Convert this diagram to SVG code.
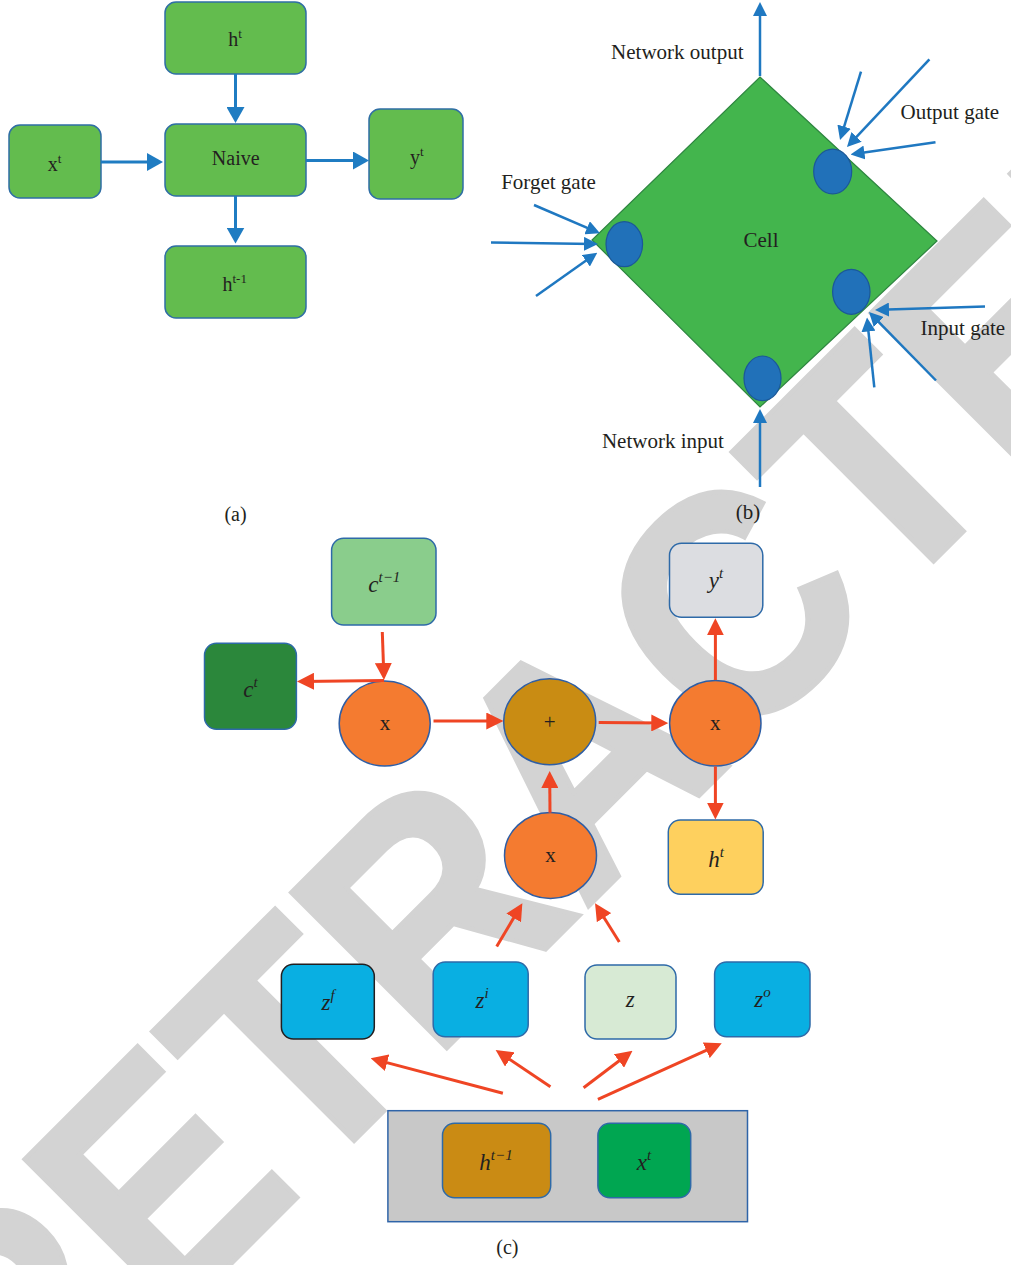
<svg xmlns="http://www.w3.org/2000/svg" width="1011" height="1265" viewBox="0 0 1011 1265">
<style>
.lbl{font-family:"Liberation Serif","Times New Roman",serif;fill:#231f20}
.a{font-size:20px}
.b{font-size:21px}
.c{font-size:23px;font-style:italic}
.sup{font-size:13px}
.csup{font-size:15px}
.abox{fill:#63bc4e;stroke:#2f6ea5;stroke-width:1.5}
.gate{fill:#2171b9;stroke:#1b5799;stroke-width:1.2}
.blue{stroke:#1f7cc2;stroke-width:3;fill:none}
.blueb{stroke:#1f78c1;stroke-width:2.5;fill:none}
.red{stroke:#ef4524;stroke-width:3;fill:none}
.cbox{stroke:#2e6aa8;stroke-width:1.5}
.circ{stroke:#2e5ea5;stroke-width:1.5}
</style>
<defs>
<marker id="ha" markerUnits="userSpaceOnUse" markerWidth="16" markerHeight="18" refX="11" refY="9" orient="auto"><path d="M0,0 L16,9 L0,18 z" fill="#1f7cc2"/></marker>
<marker id="hb" markerUnits="userSpaceOnUse" markerWidth="14" markerHeight="14" refX="9" refY="7" orient="auto"><path d="M0,0 L14,7 L0,14 z" fill="#1f78c1"/></marker>
<marker id="hc" markerUnits="userSpaceOnUse" markerWidth="17" markerHeight="17" refX="12" refY="8.5" orient="auto"><path d="M0,0 L17,8.5 L0,17 z" fill="#ef4524"/></marker>
</defs>
<rect width="1011" height="1265" fill="#ffffff"/>
<text transform="translate(15.4,1479.1) rotate(-45) scale(0.925,1)" font-family="Liberation Sans, Arial, sans-serif" font-weight="bold" font-size="319" fill="#d3d3d3" stroke="#d3d3d3" stroke-width="5">RETRACTED</text>

<!-- (a) -->
<g id="a-ht"><rect class="abox" x="165" y="2" width="141" height="72" rx="11"/><text class="lbl a" x="235" y="46" text-anchor="middle">h<tspan class="sup" dy="-8">t</tspan></text></g>
<g id="a-naive"><rect class="abox" x="165" y="124" width="141" height="72" rx="11"/><text class="lbl a" x="235.7" y="165" text-anchor="middle">Naive</text></g>
<g id="a-xt"><rect class="abox" x="9" y="125" width="92" height="73" rx="11"/><text class="lbl a" x="54.5" y="170.5" text-anchor="middle">x<tspan class="sup" dy="-8">t</tspan></text></g>
<g id="a-yt"><rect class="abox" x="369" y="109" width="94" height="90" rx="11"/><text class="lbl a" x="416.7" y="163.5" text-anchor="middle">y<tspan class="sup" dy="-8">t</tspan></text></g>
<g id="a-ht1"><rect class="abox" x="165" y="246" width="141" height="72" rx="11"/><text class="lbl a" x="234.7" y="291" text-anchor="middle">h<tspan class="sup" dy="-8">t-1</tspan></text></g>
<text class="lbl a" x="235.5" y="521" text-anchor="middle">(a)</text>

<!-- (b) -->
<g id="b-cell"><path d="M760,77 L937,241 L760,407 L592,240 z" fill="#43b54d" stroke="#2e8540" stroke-width="1.2"/><text class="lbl b" x="761" y="247" text-anchor="middle">Cell</text></g>
<g id="b-gate-forget"><ellipse class="gate" cx="624.3" cy="244.2" rx="18.3" ry="22.5"/></g>
<g id="b-gate-output"><ellipse class="gate" cx="832.7" cy="171.5" rx="19" ry="22.3"/></g>
<g id="b-gate-input"><ellipse class="gate" cx="851.3" cy="291.8" rx="18.7" ry="22.5"/></g>
<g id="b-gate-net"><ellipse class="gate" cx="762.5" cy="378.3" rx="18.5" ry="22.3"/></g>
<text class="lbl b" x="677.3" y="58.5" text-anchor="middle">Network output</text>
<text class="lbl b" x="949.9" y="118.5" text-anchor="middle">Output gate</text>
<text class="lbl b" x="548.5" y="188.5" text-anchor="middle">Forget gate</text>
<text class="lbl b" x="962.9" y="335" text-anchor="middle">Input gate</text>
<text class="lbl b" x="662.9" y="448" text-anchor="middle">Network input</text>
<text class="lbl b" x="748" y="519" text-anchor="middle">(b)</text>

<!-- (c) -->
<g id="c-ct1"><rect class="cbox" x="331.6" y="538.3" width="104.4" height="86.7" rx="12" fill="#8acd8c"/><text class="lbl c" x="384.3" y="591.5" text-anchor="middle">c<tspan class="csup" dy="-10">t−1</tspan></text></g>
<g id="c-ct"><rect class="cbox" x="204.5" y="643.3" width="91.9" height="86" rx="12" fill="#2b873b"/><text class="lbl c" x="250.5" y="696.5" text-anchor="middle">c<tspan class="csup" dy="-10">t</tspan></text></g>
<g id="c-yt"><rect class="cbox" x="669.5" y="543.3" width="93.3" height="74" rx="12" fill="#dcdde1"/><text class="lbl c" x="716" y="588" text-anchor="middle">y<tspan class="csup" dy="-10">t</tspan></text></g>
<g id="c-ht"><rect class="cbox" x="668.3" y="820" width="94.9" height="74.3" rx="12" fill="#fed05e"/><text class="lbl c" x="716" y="867" text-anchor="middle">h<tspan class="csup" dy="-10">t</tspan></text></g>
<g id="c-mul1"><ellipse class="circ" cx="384.7" cy="723.5" rx="45.5" ry="42.5" fill="#f47b30"/><text class="lbl" font-size="21" x="385" y="729.5" text-anchor="middle">x</text></g>
<g id="c-plus"><ellipse class="circ" cx="549.7" cy="721.7" rx="46" ry="43" fill="#c98c13"/><text class="lbl" font-size="21" x="549.7" y="729" text-anchor="middle">+</text></g>
<g id="c-mul2"><ellipse class="circ" cx="715.3" cy="723.3" rx="45.7" ry="42.7" fill="#f47b30"/><text class="lbl" font-size="21" x="715.3" y="729.5" text-anchor="middle">x</text></g>
<g id="c-mul3"><ellipse class="circ" cx="550.5" cy="855.5" rx="46" ry="43" fill="#f47b30"/><text class="lbl" font-size="21" x="550.5" y="862" text-anchor="middle">x</text></g>
<g id="c-zf"><rect x="281.4" y="964.3" width="92.9" height="74.7" rx="12" fill="#09afe2" stroke="#231f20" stroke-width="1.5"/><text class="lbl c" x="328" y="1010" text-anchor="middle">z<tspan class="csup" dy="-10">f</tspan></text></g>
<g id="c-zi"><rect class="cbox" x="433.2" y="962" width="95" height="74.7" rx="12" fill="#09afe2"/><text class="lbl c" x="482" y="1008" text-anchor="middle">z<tspan class="csup" dy="-10">i</tspan></text></g>
<g id="c-z"><rect class="cbox" x="585" y="965" width="91" height="74" rx="12" fill="#d7ead4"/><text class="lbl c" x="630.3" y="1007" text-anchor="middle">z</text></g>
<g id="c-zo"><rect class="cbox" x="714.6" y="962" width="95.4" height="74.7" rx="12" fill="#09afe2"/><text class="lbl c" x="762.6" y="1007" text-anchor="middle">z<tspan class="csup" dy="-10">o</tspan></text></g>
<g id="c-input"><rect x="387.9" y="1110.7" width="359.6" height="111" fill="#c8c8c8" stroke="#2f64a8" stroke-width="1.5"/></g>
<g id="c-ht1"><rect class="cbox" x="442.5" y="1123.3" width="108.2" height="74.4" rx="12" fill="#ca8b14"/><text class="lbl c" x="496" y="1170" text-anchor="middle">h<tspan class="csup" dy="-10">t−1</tspan></text></g>
<g id="c-xt"><rect class="cbox" x="597.9" y="1123.3" width="92.8" height="74.4" rx="12" fill="#00a651"/><text class="lbl c" x="644" y="1170" text-anchor="middle">x<tspan class="csup" dy="-10">t</tspan></text></g>
<text class="lbl" font-size="20" x="507.4" y="1254" text-anchor="middle">(c)</text>

<g id="connectors">
<line class="blue" x1="235.5" y1="74" x2="235.5" y2="118" marker-end="url(#ha)"/>
<line class="blue" x1="101" y1="162" x2="158" y2="162" marker-end="url(#ha)"/>
<line class="blue" x1="306" y1="160.5" x2="364" y2="160.5" marker-end="url(#ha)"/>
<line class="blue" x1="235.5" y1="196" x2="235.5" y2="238.5" marker-end="url(#ha)"/>

<line class="blueb" x1="760" y1="76" x2="760" y2="7" marker-end="url(#hb)"/>
<line class="blueb" x1="760" y1="487" x2="760" y2="414" marker-end="url(#hb)"/>
<line class="blueb" x1="534" y1="205" x2="595.4" y2="231.3" marker-end="url(#hb)"/>
<line class="blueb" x1="491" y1="242.5" x2="593" y2="244" marker-end="url(#hb)"/>
<line class="blueb" x1="536" y1="296" x2="593.2" y2="255.6" marker-end="url(#hb)"/>
<line class="blueb" x1="861" y1="71.7" x2="841.5" y2="135.2" marker-end="url(#hb)"/>
<line class="blueb" x1="929.4" y1="59.3" x2="850.4" y2="143.4" marker-end="url(#hb)"/>
<line class="blueb" x1="935.5" y1="142.3" x2="855.5" y2="153.8" marker-end="url(#hb)"/>
<line class="blueb" x1="985" y1="306.5" x2="880" y2="309.8" marker-end="url(#hb)"/>
<line class="blueb" x1="936" y1="380.5" x2="872.5" y2="315.6" marker-end="url(#hb)"/>
<line class="blueb" x1="874.3" y1="387.3" x2="867.5" y2="322.5" marker-end="url(#hb)"/>

<line class="red" x1="382.3" y1="632" x2="383.8" y2="675" marker-end="url(#hc)"/>
<line class="red" x1="384" y1="680.5" x2="302" y2="681.4" marker-end="url(#hc)"/>
<line class="red" x1="433.5" y1="721" x2="498.3" y2="721" marker-end="url(#hc)"/>
<line class="red" x1="598.7" y1="722.5" x2="663.3" y2="723" marker-end="url(#hc)"/>
<line class="red" x1="715.4" y1="680" x2="715.4" y2="623.3" marker-end="url(#hc)"/>
<line class="red" x1="715.4" y1="766.5" x2="715.4" y2="814.5" marker-end="url(#hc)"/>
<line class="red" x1="550" y1="812.7" x2="549.7" y2="776" marker-end="url(#hc)"/>
<line class="red" x1="496.7" y1="946.5" x2="519.8" y2="907.6" marker-end="url(#hc)"/>
<line class="red" x1="619.3" y1="942" x2="597.7" y2="907.5" marker-end="url(#hc)"/>
<line class="red" x1="502.9" y1="1093.3" x2="375.5" y2="1059.6" marker-end="url(#hc)"/>
<line class="red" x1="550.4" y1="1086.7" x2="499.8" y2="1052.8" marker-end="url(#hc)"/>
<line class="red" x1="583.6" y1="1087.7" x2="628.5" y2="1053.7" marker-end="url(#hc)"/>
<line class="red" x1="597.9" y1="1099.3" x2="717.2" y2="1045.4" marker-end="url(#hc)"/>
</g>
</svg>
